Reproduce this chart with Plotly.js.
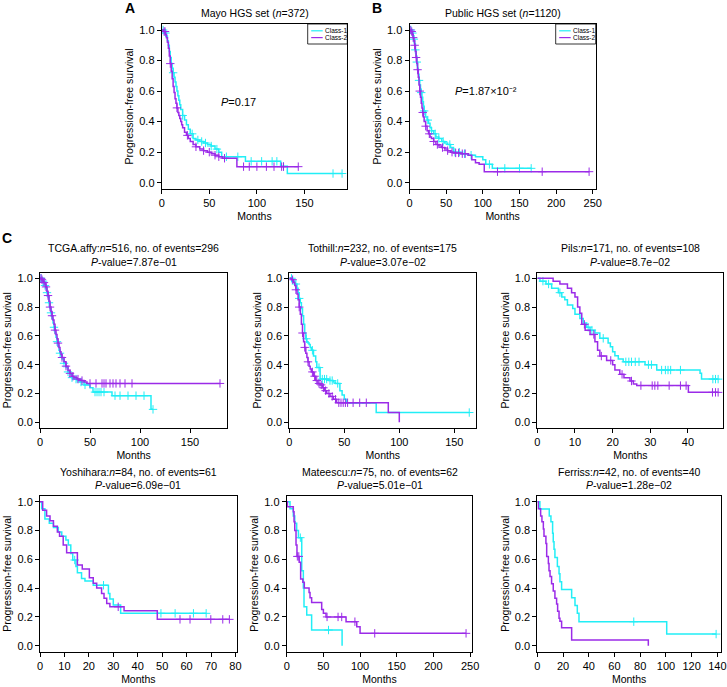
<!DOCTYPE html>
<html>
<head>
<meta charset="utf-8">
<script src="https://cdn.plot.ly/plotly-3.0.1.min.js"></script>
<style>html,body{margin:0;padding:0;background:#fff}#chart{width:727px;height:687px}</style>
</head>
<body>
<div id="chart"></div>
<script>
// ---------------- DATA ----------------
// A: Mayo HGS set
const mayoClass1Time = [0,3,5,6,7,8,9,10,11,12,13,14,15,16,17,18,19,20,22,24,26,28,30,33,36,40,44,48,52,56,60,63,88,125,132];
const mayoClass1Surv = [1,0.98,0.96,0.93,0.90,0.86,0.82,0.78,0.75,0.72,0.69,0.66,0.63,0.60,0.57,0.54,0.51,0.48,0.44,0.41,0.38,0.35,0.32,0.29,0.28,0.27,0.26,0.25,0.24,0.22,0.20,0.17,0.14,0.107,0.06];
const mayoClass1Cens = [1.5,4,12,22,32,38,42,46,52,58,68,80,94,105,116,121,128,180,189.5];
const mayoClass2Time = [0,2,4,5,6,7,8,9,10,11,12,13,14,15,16,17,18,19,20,21,22,24,26,28,30,33,36,40,44,48,52,56,60,64,79];
const mayoClass2Surv = [1,0.99,0.97,0.95,0.92,0.88,0.83,0.78,0.73,0.68,0.63,0.59,0.55,0.52,0.49,0.46,0.44,0.42,0.40,0.38,0.36,0.33,0.31,0.29,0.27,0.25,0.235,0.22,0.21,0.20,0.19,0.18,0.17,0.16,0.105];
const mayoClass2Cens = [2.5,3.5,9,16,27,36,44,50,56,60,66,86,92,100,110,118,126,128,143.5];

// B: Public HGS set
const publicClass1Time = [0,3,5,6,7,8,9,10,11,12,13,14,15,16,17,18,19,20,22,24,26,28,30,33,36,40,44,48,52,56,60,70,80,90,100,104,113];
const publicClass1Surv = [1,0.98,0.96,0.94,0.91,0.87,0.83,0.79,0.75,0.71,0.67,0.64,0.61,0.59,0.56,0.53,0.50,0.47,0.43,0.41,0.39,0.36,0.34,0.32,0.30,0.29,0.27,0.26,0.25,0.23,0.20,0.19,0.18,0.17,0.15,0.12,0.094];
const publicClass1Cens = [2,4,6,8,10,13,16,20,25,30,35,40,46,55,62,68,75,84,109,130,150,166];
const publicClass2Time = [0,2,4,5,6,7,8,9,10,11,12,13,14,15,16,17,18,19,20,22,24,26,28,30,33,36,40,44,48,52,56,60,70,80,85,90,95,102];
const publicClass2Surv = [1,0.99,0.97,0.95,0.93,0.90,0.86,0.82,0.78,0.74,0.69,0.64,0.60,0.56,0.52,0.49,0.46,0.43,0.40,0.37,0.34,0.32,0.30,0.29,0.27,0.25,0.24,0.23,0.22,0.21,0.20,0.195,0.19,0.18,0.15,0.13,0.12,0.072];
const publicClass2Cens = [1,3,5,7,9,11,14,18,22,27,33,38,45,52,58,63,67,72,76,120,181,245];

// C: TCGA.affy
const tcgaClass1Time = [0,2,3,4,5,6,7,8,9,10,11,12,13,14,15,16,17,18,19,20,21,22,24,26,28,30,32,34,37,40,44,50,53,72,111];
const tcgaClass1Surv = [1,0.99,0.98,0.96,0.95,0.93,0.90,0.87,0.83,0.79,0.76,0.72,0.69,0.66,0.62,0.59,0.56,0.53,0.50,0.48,0.46,0.44,0.41,0.38,0.35,0.33,0.31,0.30,0.29,0.28,0.26,0.24,0.21,0.185,0.09];
const tcgaClass1Cens = [1,3,5,7,9,11,14,17,20,24,28,32,36,41,45,55,57,59,61,64,75,80,88,96,104,113];
const tcgaClass2Time = [0,2,3,4,5,6,7,8,9,10,11,12,13,14,15,16,17,18,19,20,21,22,24,26,28,30,32,34,37,40,44,47];
const tcgaClass2Surv = [1,0.99,0.98,0.97,0.96,0.94,0.91,0.88,0.84,0.80,0.77,0.74,0.71,0.68,0.64,0.61,0.58,0.55,0.52,0.49,0.47,0.45,0.42,0.39,0.36,0.34,0.32,0.31,0.30,0.29,0.28,0.27];
const tcgaClass2Cens = [1,2,4,6,8,10,12,15,18,22,26,30,33,38,42,50,56,62,64,66,70,73,76,80,85,92,180];

// C: Tothill
const tothillClass1Time = [0,3,5,7,8,9,10,11,12,13,14,15,16,17,18,19,20,22,24,25,28,36,40,42,46,48,50,52,79];
const tothillClass1Surv = [1,0.98,0.96,0.93,0.90,0.86,0.83,0.79,0.74,0.68,0.62,0.58,0.56,0.55,0.54,0.52,0.50,0.46,0.42,0.38,0.30,0.29,0.28,0.27,0.22,0.19,0.16,0.135,0.068];
const tothillClass1Cens = [2,6,9,15.5,21,27,30,32,34,37,39,44,163.6];
const tothillClass2Time = [0,2,4,5,6,7,8,9,10,11,12,13,14,15,16,17,18,19,20,22,24,26,28,30,32,34,37,40,43,90,100];
const tothillClass2Surv = [1,0.99,0.97,0.95,0.92,0.89,0.85,0.80,0.75,0.68,0.62,0.56,0.52,0.48,0.45,0.42,0.39,0.37,0.35,0.32,0.29,0.27,0.26,0.24,0.22,0.20,0.18,0.16,0.136,0.068,0];
const tothillClass2Cens = [3,6,9,12,14,17,21,23,25,27,29,31,33,36,39,42,45,47,49,51,53,58,64,70];

// C: Pils
const pilsClass1Time = [0,0.7,2.3,3.8,5.6,6.5,7.3,8,9.4,10,11.3,12.2,13.1,14,15.3,16.6,18.8,19.4,20,20.6,21.5,22.8,28.6,31.7,43.2,43.6];
const pilsClass1Surv = [1,0.98,0.96,0.93,0.90,0.87,0.85,0.815,0.79,0.75,0.72,0.69,0.66,0.64,0.62,0.583,0.55,0.525,0.49,0.463,0.44,0.42,0.40,0.363,0.34,0.30];
const pilsClass1Cens = [1.5,3,6,13.5,14.5,17.5,23.5,24.3,25,26,27,29.5,30.3,33,34,34.7,35.4,38,46.6,47.3,48];
const pilsClass2Time = [0,4.2,6,8,9.1,10,10.7,11.3,11.8,12.7,14,15.3,16,16.6,18.4,20,20.6,21.9,23,24.6,25.5,26.4,40.1];
const pilsClass2Surv = [1,0.98,0.96,0.93,0.90,0.87,0.80,0.757,0.68,0.64,0.61,0.56,0.50,0.46,0.43,0.40,0.363,0.333,0.31,0.287,0.266,0.255,0.208];
const pilsClass2Cens = [12.5,15,17,19.5,22.5,25,27.5,30.5,31.2,32,35,38,39.5,46.5,47.3,48];

// C: Yoshihara
const yoshiharaClass1Time = [0,0.7,2,3.8,5.5,7.5,8.9,10.6,11.6,12.6,13.4,14.7,15.3,17,18.4,21.8,28,28.6,30,33];
const yoshiharaClass1Surv = [1,0.95,0.88,0.85,0.82,0.79,0.76,0.734,0.70,0.64,0.595,0.55,0.507,0.467,0.45,0.42,0.363,0.324,0.282,0.225];
const yoshiharaClass1Cens = [14.2,26,49.5,55.3,62.8,68];
const yoshiharaClass2Time = [0,1.1,2.7,4.1,5.5,7.1,8,9.5,10.9,15.3,17.3,20.2,21.8,23.2,25.2,26.2,27.3,28.6,34.4,48];
const yoshiharaClass2Surv = [1,0.94,0.90,0.868,0.83,0.79,0.76,0.70,0.645,0.56,0.532,0.472,0.433,0.40,0.363,0.33,0.294,0.27,0.243,0.183];
const yoshiharaClass2Cens = [32,57.3,61.4,69.9,74.8,77.5];

// C: Mateescu
const mateescuClass1Time = [0,4.5,9,11,13.6,16,20.5,22.7,23.6,27.3,34,75.5];
const mateescuClass1Surv = [1,0.95,0.90,0.85,0.80,0.75,0.52,0.40,0.27,0.213,0.109,0];
const mateescuClass1Cens = [18.6,57];
const mateescuClass2Time = [0,1,9,10,11,12.7,14,17,19,22,24,30.5,31.8,34,47.7,50,53.6,80.9,95.5,100];
const mateescuClass2Surv = [1,0.965,0.93,0.86,0.80,0.70,0.62,0.58,0.463,0.44,0.40,0.37,0.333,0.30,0.252,0.225,0.20,0.167,0.132,0.086];
const mateescuClass2Cens = [14.5,16.5,55,70,75,93,120,244.5];

// C: Ferriss
const ferrissClass1Time = [0,2,9.3,10.6,11.9,12.4,13,13.7,15.6,16.9,17.6,18.9,26.7,29.3,31.1,32.4,100.6];
const ferrissClass1Surv = [1,0.949,0.90,0.86,0.78,0.722,0.67,0.613,0.55,0.50,0.444,0.39,0.333,0.28,0.225,0.167,0.081];
const ferrissClass1Cens = [75,139];
const ferrissClass2Time = [0,0.8,2.6,3.6,4.7,5.2,6.7,7.3,8.6,9.1,9.9,11.1,12.4,13.7,15,15.8,16.9,17.6,18.9,26.7,86.3];
const ferrissClass2Surv = [1,0.95,0.90,0.86,0.81,0.76,0.71,0.62,0.57,0.52,0.48,0.43,0.38,0.33,0.29,0.24,0.19,0.17,0.125,0.04,0];
const ferrissClass2Cens = [];

// Text
const panelTitlesTop = ['Mayo HGS set (<i>n</i>=372)', 'Public HGS set (<i>n</i>=1120)'];
const panelTitlesC = [
  ['TCGA.affy:<i>n</i>=516, no. of events=296', '<i>P</i>-value=7.87e\u221201'],
  ['Tothill:<i>n</i>=232, no. of events=175', '<i>P</i>-value=3.07e\u221202'],
  ['Pils:<i>n</i>=171, no. of events=108', '<i>P</i>-value=8.7e\u221202'],
  ['Yoshihara:<i>n</i>=84, no. of events=61', '<i>P</i>-value=6.09e\u221201'],
  ['Mateescu:<i>n</i>=75, no. of events=62', '<i>P</i>-value=5.01e\u221201'],
  ['Ferriss:<i>n</i>=42, no. of events=40', '<i>P</i>-value=1.28e\u221202']
];
const pTextA = '<i>P</i>=0.17';
const pTextB = '<i>P</i>=1.87\u00d710\u207b\u00b2';
const legendLabels = ['Class-1', 'Class-2'];
const yTickValues = [0, 0.2, 0.4, 0.6, 0.8, 1.0];

// ---------------- DRAWING ----------------
const W = 727, H = 687;
const CYAN = '#22EEF6', PURPLE = '#9B2BE8';
const FONT = 'Liberation Sans, Arial, Helvetica, sans-serif';
const px = x => x / W, py = y => 1 - y / H;

const panels = [
  {c1:[mayoClass1Time, mayoClass1Surv, mayoClass1Cens], c2:[mayoClass2Time, mayoClass2Surv, mayoClass2Cens], box:[161.7,347.3,23.9,188.8], xr:[0,195], dtick:50},
  {c1:[publicClass1Time, publicClass1Surv, publicClass1Cens], c2:[publicClass2Time, publicClass2Surv, publicClass2Cens], box:[409.5,595.7,23.9,188.8], xr:[0,254], dtick:50},
  {c1:[tcgaClass1Time, tcgaClass1Surv, tcgaClass1Cens], c2:[tcgaClass2Time, tcgaClass2Surv, tcgaClass2Cens], box:[40,227.2,272.5,428.1], xr:[0,187.2], dtick:50},
  {c1:[tothillClass1Time, tothillClass1Surv, tothillClass1Cens], c2:[tothillClass2Time, tothillClass2Surv, tothillClass2Cens], box:[289.3,476.3,272.5,428.1], xr:[0,170], dtick:50},
  {c1:[pilsClass1Time, pilsClass1Surv, pilsClass1Cens], c2:[pilsClass2Time, pilsClass2Surv, pilsClass2Cens], box:[537.3,723.4,272.5,428.1], xr:[0,49.4], dtick:10},
  {c1:[yoshiharaClass1Time, yoshiharaClass1Surv, yoshiharaClass1Cens], c2:[yoshiharaClass2Time, yoshiharaClass2Surv, yoshiharaClass2Cens], box:[40,236.7,495.9,651.5], xr:[0,80.5], dtick:10},
  {c1:[mateescuClass1Time, mateescuClass1Surv, mateescuClass1Cens], c2:[mateescuClass2Time, mateescuClass2Surv, mateescuClass2Cens], box:[286.7,472.3,495.9,651.5], xr:[0,253], dtick:50},
  {c1:[ferrissClass1Time, ferrissClass1Surv, ferrissClass1Cens], c2:[ferrissClass2Time, ferrissClass2Surv, ferrissClass2Cens], box:[537.3,721,495.9,651.5], xr:[0,142.8], dtick:20}
];

function survAt(t, times, surv) {
  let s = surv[0];
  for (let i = 0; i < times.length; i++) { if (times[i] <= t) s = surv[i]; else break; }
  return s;
}

const traces = [];
const layout = {
  width: W, height: H, margin: {l:0, r:0, t:0, b:0},
  paper_bgcolor: '#fff', plot_bgcolor: '#fff', showlegend: false,
  font: {family: FONT, color: '#000', size: 11},
  annotations: [], shapes: []
};

panels.forEach((p, i) => {
  const sfx = i === 0 ? '' : String(i + 1);
  const xa = 'x' + sfx, ya = 'y' + sfx;
  [[p.c1, CYAN], [p.c2, PURPLE]].forEach(([c, col]) => {
    const [t, s, cens] = c;
    const end = Math.max(t[t.length - 1], ...(cens.length ? cens : [0]));
    traces.push({x: t.concat([end]), y: s.concat([s[s.length - 1]]), mode: 'lines',
      line: {shape: 'hv', color: col, width: 1.5}, xaxis: xa, yaxis: ya, hoverinfo: 'skip'});
    if (cens.length) traces.push({x: cens, y: cens.map(v => survAt(v, t, s)), mode: 'markers',
      marker: {symbol: 'cross-thin', size: 6, color: col, line: {width: 1, color: col}},
      xaxis: xa, yaxis: ya, hoverinfo: 'skip'});
  });
  const [x0, x1, y0, y1] = p.box;
  const common = {showline: true, linecolor: '#000', linewidth: 1, mirror: true, ticks: 'outside',
    ticklen: 4, tickwidth: 1, tickcolor: '#000', showgrid: false, zeroline: false,
    tickfont: {size: 11, color: '#000', family: FONT}};
  layout['xaxis' + sfx] = Object.assign({}, common, {domain: [px(x0), px(x1)], range: p.xr, anchor: ya,
    tick0: 0, dtick: p.dtick, title: {text: 'Months', font: {size: 10.5, family: FONT}, standoff: 4}});
  layout['yaxis' + sfx] = Object.assign({}, common, {domain: [py(y1), py(y0)], range: [-0.04, 1.04], anchor: xa,
    tickvals: yTickValues, tickformat: '.1f', title: {text: 'Progression-free survival', font: {size: 10.5, family: FONT}, standoff: 3}});
  if (i >= 2) {
    const tt = panelTitlesC[i - 2];
    const cx = px((x0 + x1) / 2);
    const l1 = i < 5 ? 248.3 : 471.7, l2 = i < 5 ? 262 : 484.5;
    layout.annotations.push({text: tt[0], x: cx, y: py(l1), xref: 'paper', yref: 'paper', showarrow: false, font: {size: 10.5}, xanchor: 'center', yanchor: 'middle'});
    layout.annotations.push({text: tt[1], x: cx, y: py(l2), xref: 'paper', yref: 'paper', showarrow: false, font: {size: 10.5}, xanchor: 'center', yanchor: 'middle'});
  } else {
    layout.annotations.push({text: panelTitlesTop[i], x: px((x0 + x1) / 2), y: py(13.3), xref: 'paper', yref: 'paper', showarrow: false, font: {size: 10.5}, xanchor: 'center', yanchor: 'middle'});
  }
});

// P annotations for A, B
layout.annotations.push({text: pTextA, x: 81, y: 0.53, xref: 'x', yref: 'y', showarrow: false, font: {size: 11}});
layout.annotations.push({text: pTextB, x: 105, y: 0.60, xref: 'x2', yref: 'y2', showarrow: false, font: {size: 11}});

// Panel letters
[['A', 130, 8.3], ['B', 376.7, 8.3], ['C', 6.7, 238.3]].forEach(([t, x, y]) => {
  layout.annotations.push({text: '<b>' + t + '</b>', x: px(x), y: py(y), xref: 'paper', yref: 'paper', showarrow: false, font: {size: 14}, xanchor: 'center', yanchor: 'middle'});
});

// Small legends in A and B (frame + sample lines as shapes, labels as text)
[[307.7, 347.3], [555.7, 595.7]].forEach(([lx0, lx1]) => {
  layout.shapes.push({type: 'rect', layer: 'below', xref: 'paper', yref: 'paper', x0: px(lx0), x1: px(lx1), y0: py(44), y1: py(24), line: {color: '#000', width: 0.8}, fillcolor: 'rgba(0,0,0,0)'});
  [[CYAN, 30.8], [PURPLE, 37.6]].forEach(([col, yy], k) => {
    layout.shapes.push({type: 'line', xref: 'paper', yref: 'paper', x0: px(lx0 + 3.5), x1: px(lx0 + 15), y0: py(yy), y1: py(yy), line: {color: col, width: 1.2}});
    layout.annotations.push({text: legendLabels[k], x: px(lx0 + 16.5), y: py(yy), xref: 'paper', yref: 'paper', showarrow: false, borderpad: 0, font: {size: 6.5}, xanchor: 'left', yanchor: 'middle'});
  });
});

Plotly.newPlot('chart', traces, layout, {staticPlot: true, displayModeBar: false});
</script>
</body>
</html>
